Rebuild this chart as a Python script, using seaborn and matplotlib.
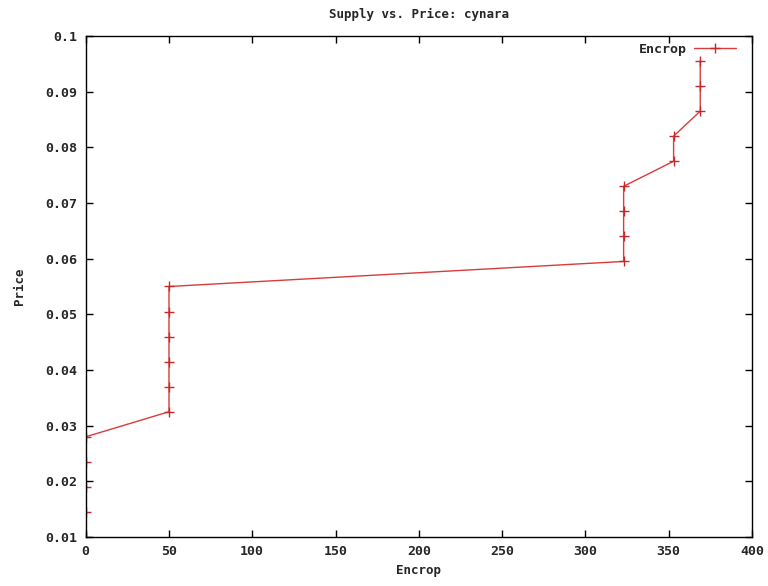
import seaborn as sns
import matplotlib
matplotlib.use("Agg")
import matplotlib.pyplot as plt
from matplotlib.ticker import FuncFormatter

# supply (Encrop) vs price for cynara
encrop = [0, 0, 0, 0, 0, 50, 50, 50, 50, 50, 50,
          323, 323, 323, 323, 353, 353, 369, 369, 369]
price = [0.01, 0.0145, 0.019, 0.0235, 0.028, 0.0325, 0.037, 0.0415, 0.046, 0.0505, 0.055,
         0.0595, 0.064, 0.0685, 0.073, 0.0775, 0.082, 0.0865, 0.091, 0.0955]
x_ticks = [0, 50, 100, 150, 200, 250, 300, 350, 400]
y_ticks = [0.01, 0.02, 0.03, 0.04, 0.05, 0.06, 0.07, 0.08, 0.09, 0.1]

sns.set_style("ticks")
plt.rcParams['font.family'] = ['DejaVu Sans Mono', 'DejaVu Sans']
plt.rcParams['font.weight'] = 'bold'

fig = plt.figure(figsize=(7.68, 5.86), dpi=100)
ax = fig.add_axes([0.1116, 0.0836, 0.979 - 0.1116, 0.9386 - 0.0836])

sns.lineplot(x=encrop, y=price, estimator=None, sort=False, ax=ax,
             color='#d83c3c', linewidth=1, marker='+', markersize=7,
             markeredgewidth=1, markeredgecolor='#c42a2a', label='Encrop')

ax.set_xlim(0, 400)
ax.set_ylim(0.01, 0.1)
ax.set_xticks(x_ticks)
ax.set_yticks(y_ticks)
ax.yaxis.set_major_formatter(FuncFormatter(lambda v, p: '%g' % round(v, 3)))
ax.tick_params(direction='in', length=5, width=1, top=True, right=True,
               labelsize=9.5, color='black', pad=6)
for s in ax.spines.values():
    s.set_linewidth(1)
    s.set_color('black')

ax.set_title('Supply vs. Price: cynara', fontsize=9, fontweight='bold', pad=13)
ax.set_xlabel('Encrop', fontsize=9, fontweight='bold', labelpad=4)
ax.set_ylabel('Price', fontsize=9, fontweight='bold', labelpad=14)

leg = ax.legend(loc='upper right', bbox_to_anchor=(1 - 16 / 666, 1 - 7 / 501),
                frameon=False, markerfirst=False, fontsize=9.5,
                handlelength=3.2, handletextpad=0.5,
                borderaxespad=0, borderpad=0)

fig.savefig('out.png', dpi=100)
